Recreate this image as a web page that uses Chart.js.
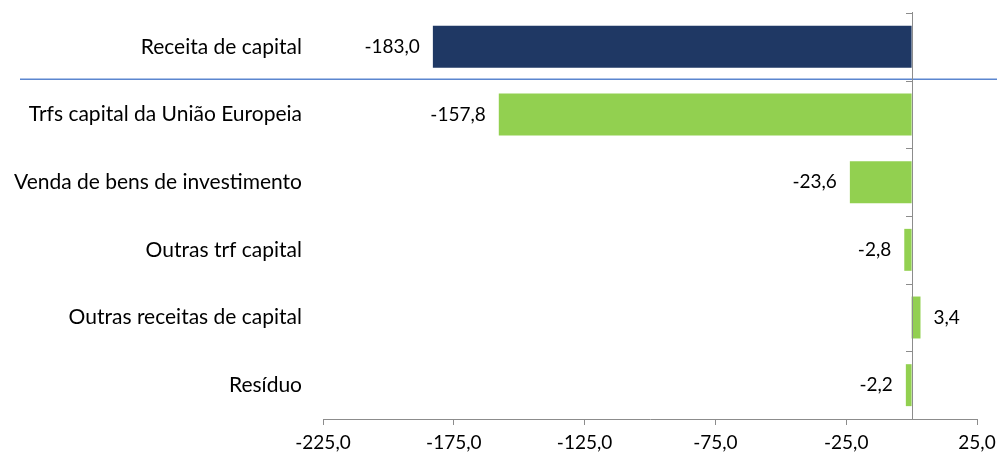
<!DOCTYPE html>
<html>
<head>
<meta charset="utf-8">
<script src="https://cdn.jsdelivr.net/npm/chart.js@4.4.1/dist/chart.umd.min.js"></script>
<style>
html,body{margin:0;padding:0;background:#fff;}
#wrap{width:997px;height:454px;position:relative;}
</style>
</head>
<body>
<div id="wrap"><canvas id="c" width="997" height="454"></canvas></div>
<script>
const categories = ["Receita de capital","Trfs capital da União Europeia","Venda de bens de investimento","Outras trf capital","Outras receitas de capital","Resíduo"];
const values = [-183.0,-157.8,-23.6,-2.8,3.4,-2.2];
const xTicks = [-225,-175,-125,-75,-25,25];

const FONT = "Lato, 'Liberation Sans', sans-serif";
const fmt = v => v.toFixed(1).replace('.', ',');

const decor = {
  id: 'decor',
  afterDatasetsDraw(chart) {
    const {ctx, chartArea, scales:{x, y}} = chart;
    const x0 = x.getPixelForValue(0);
    ctx.save();
    // separator line
    const ySep = (y.getPixelForValue(0) + y.getPixelForValue(1)) / 2 - 1.5;
    ctx.strokeStyle = '#5B86CF';
    ctx.lineWidth = 1.5;
    ctx.beginPath(); ctx.moveTo(20, ySep); ctx.lineTo(997, ySep); ctx.stroke();
    // zero axis line
    ctx.strokeStyle = '#8C8C8C';
    ctx.lineWidth = 1;
    ctx.beginPath(); ctx.moveTo(Math.round(x0)+0.5, chartArea.top-1); ctx.lineTo(Math.round(x0)+0.5, chartArea.bottom); ctx.stroke();
    // category boundary ticks
    for (let i = 0; i <= categories.length; i++) {
      let yy;
      if (i === 0) yy = chartArea.top;
      else if (i === categories.length) yy = chartArea.bottom;
      else yy = (y.getPixelForValue(i-1) + y.getPixelForValue(i)) / 2;
      yy = Math.round(yy) + 0.5;
      ctx.beginPath(); ctx.moveTo(Math.round(x0)-6, yy); ctx.lineTo(Math.round(x0)+0.5, yy); ctx.stroke();
    }
    // data labels
    ctx.fillStyle = '#000';
    ctx.font = "19px " + FONT;
    ctx.textBaseline = 'middle';
    values.forEach((v, i) => {
      const px = x.getPixelForValue(v);
      const py = y.getPixelForValue(i);
      if (v < 0) { ctx.textAlign = 'right'; ctx.fillText(fmt(v), px - 13, py); }
      else { ctx.textAlign = 'left'; ctx.fillText(fmt(v), px + 13, py); }
    });
    ctx.restore();
  }
};

new Chart(document.getElementById('c'), {
  type: 'bar',
  data: {
    labels: categories,
    datasets: [{
      data: values,
      backgroundColor: ctx => ctx.dataIndex === 0 ? '#1F3864' : '#92D050',
      borderWidth: 0,
      barPercentage: 0.62,
      categoryPercentage: 1.0
    }]
  },
  options: {
    indexAxis: 'y',
    responsive: false,
    animation: false,
    devicePixelRatio: 1,
    layout: { padding: { top: 13, right: 20, left: 0, bottom: 0 } },
    plugins: { legend: { display: false }, tooltip: { enabled: false } },
    scales: {
      x: {
        min: -225, max: 25,
        afterBuildTicks: s => { s.ticks = xTicks.map(v => ({value: v})); },
        ticks: { callback: v => fmt(v), color: '#000', font: { family: FONT, size: 19 }, padding: 6, maxRotation: 0 },
        grid: { display: true, drawOnChartArea: false, drawTicks: true, tickLength: 6, color: '#8C8C8C' },
        border: { display: true, color: '#8C8C8C' },
        afterFit: s => { s.height = 35; s.paddingLeft = 0; s.paddingRight = 0; }
      },
      y: {
        ticks: { color: '#000', font: { family: FONT, size: 21 }, padding: 21 },
        grid: { display: false, drawTicks: false },
        border: { display: false },
        afterFit: s => { s.width = 323; s.paddingTop = 0; s.paddingBottom = 0; }
      }
    }
  },
  plugins: [decor]
});
</script>
</body>
</html>
